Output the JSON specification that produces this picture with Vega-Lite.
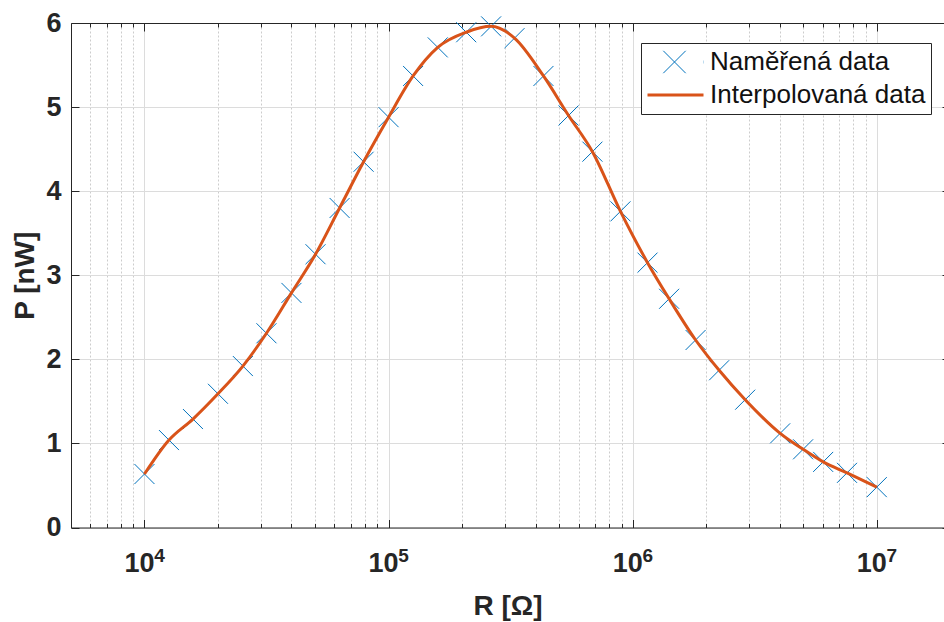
{
  "$schema": "https://vega.github.io/schema/vega-lite/v6.json",
  "width": 873,
  "height": 504.5,
  "autosize": {"type": "none"},
  "padding": {"left": 71, "top": 23, "right": 0, "bottom": 94.5},
  "background": "white",
  "config": {
    "view": {"stroke": null},
    "font": "Liberation Sans",
    "axis": {
      "labelFont": "Liberation Sans", "titleFont": "Liberation Sans",
      "labelColor": "#262626", "titleColor": "#262626",
      "domainColor": "#262626", "tickColor": "#262626",
      "domainWidth": 1, "tickWidth": 1,
      "labelFontWeight": "bold", "titleFontWeight": "bold",
      "labelFontSize": 27, "titleFontSize": 28
    },
    "legend": {
      "title": null, "orient": "none", "direction": "vertical", "cornerRadius": 0,
      "labelFont": "Liberation Sans", "labelFontSize": 26, "labelColor": "#111111", "labelFontWeight": "normal",
      "labelLimit": 400,
      "symbolSize": 3136, "clipHeight": 28, "rowPadding": 5, "symbolOffset": 0,
      "symbolFillColor": "transparent", "symbolOpacity": 1
    }
  },
  "data": {"values": [
    {"R": 10000, "P": 0.636},
    {"R": 12600, "P": 1.04},
    {"R": 15800, "P": 1.29},
    {"R": 20000, "P": 1.59},
    {"R": 25300, "P": 1.92},
    {"R": 31600, "P": 2.31},
    {"R": 40000, "P": 2.79},
    {"R": 50200, "P": 3.25},
    {"R": 63000, "P": 3.80},
    {"R": 79000, "P": 4.35},
    {"R": 100000, "P": 4.88},
    {"R": 126000, "P": 5.37},
    {"R": 159000, "P": 5.71},
    {"R": 208000, "P": 5.89},
    {"R": 263000, "P": 5.96},
    {"R": 328000, "P": 5.82},
    {"R": 431000, "P": 5.37},
    {"R": 546000, "P": 4.90},
    {"R": 684000, "P": 4.47},
    {"R": 891000, "P": 3.76},
    {"R": 1150000, "P": 3.15},
    {"R": 1410000, "P": 2.72},
    {"R": 1810000, "P": 2.23},
    {"R": 2260000, "P": 1.87},
    {"R": 2890000, "P": 1.52},
    {"R": 4020000, "P": 1.12},
    {"R": 4990000, "P": 0.93},
    {"R": 6030000, "P": 0.78},
    {"R": 7550000, "P": 0.65},
    {"R": 10000000, "P": 0.48}
  ]},
  "layer": [
    {
      "mark": {"type": "point", "filled": false, "opacity": 0},
      "encoding": {
        "x": {
          "field": "R", "type": "quantitative",
          "scale": {"type": "log", "domain": [5000, 18850000], "nice": false, "zero": false},
          "axis": {
            "orient": "bottom", "title": null, "grid": false, "domain": false, "ticks": false,
            "values": [10000, 100000, 1000000, 10000000],
            "labelExpr": "datum.value == 10000 ? '4' : datum.value == 100000 ? '5' : datum.value == 1000000 ? '6' : '7'",
            "labelFontSize": 19, "labelOffset": 14.5, "labelPadding": 19,
            "labelOverlap": false, "labelFlush": false
          }
        },
        "y": {"field": "P", "type": "quantitative", "scale": {"domain": [0, 6], "nice": false, "zero": true}, "axis": null}
      }
    },
    {
      "mark": {"type": "point", "filled": false, "size": 2500, "strokeWidth": 1, "opacity": 1},
      "encoding": {
        "x": {
          "field": "R", "type": "quantitative",
          "axis": {
            "orient": "top", "title": null, "labels": false, "grid": false, "domain": true,
            "values": [6000,7000,8000,9000,10000,20000,30000,40000,50000,60000,70000,80000,90000,100000,200000,300000,400000,500000,600000,700000,800000,900000,1000000,2000000,3000000,4000000,5000000,6000000,7000000,8000000,9000000,10000000],
            "tickSize": {"condition": {"test": "indexof([10000,100000,1000000,10000000], datum.value) >= 0", "value": -8}, "value": -4}
          }
        },
        "y": {
          "field": "P", "type": "quantitative",
          "axis": {"orient": "right", "title": null, "labels": false, "grid": false, "domain": false, "values": [0,1,2,3,4,5,6], "tickSize": -2}
        },
        "color": {
          "datum": "Naměřená data", "type": "nominal",
          "scale": {"domain": ["Naměřená data", "Interpolovaná data"], "range": ["#0072BD", "#D95319"]},
          "legend": {
            "title": null, "legendX": 570, "legendY": 20,
            "fillColor": "white", "strokeColor": "#262626", "padding": 5, "labelOffset": 5,
            "symbolType": "stroke", "symbolStrokeWidth": 3
          }
        },
        "shape": {
          "datum": "Naměřená data", "type": "nominal",
          "scale": {"domain": ["Naměřená data"], "range": ["M-0.4,-0.4L0.4,0.4M-0.4,0.4L0.4,-0.4"]},
          "legend": {
            "title": null, "legendX": 575, "legendY": 25,
            "fillColor": "white", "strokeColor": "transparent", "padding": 0, "labelOffset": 0,
            "labelExpr": "''", "rowPadding": 0,
            "symbolStrokeColor": "#0072BD", "symbolStrokeWidth": 1
          }
        }
      }
    },
    {
      "mark": {"type": "line", "interpolate": "monotone", "strokeWidth": 3},
      "encoding": {
        "x": {
          "field": "R", "type": "quantitative",
          "axis": {
            "orient": "bottom", "title": "R [Ω]", "titlePadding": 12,
            "values": [6000,7000,8000,9000,10000,20000,30000,40000,50000,60000,70000,80000,90000,100000,200000,300000,400000,500000,600000,700000,800000,900000,1000000,2000000,3000000,4000000,5000000,6000000,7000000,8000000,9000000,10000000],
            "labelExpr": "indexof([10000,100000,1000000,10000000], datum.value) >= 0 ? '10' : ''",
            "labelOverlap": false, "labelFlush": false, "labelPadding": 31, "labelOffset": -5.5,
            "grid": true,
            "gridColor": {"condition": {"test": "indexof([10000,100000,1000000,10000000], datum.value) >= 0", "value": "#dcdcdc"}, "value": "#cccccc"},
            "gridDash": {"condition": {"test": "indexof([10000,100000,1000000,10000000], datum.value) >= 0", "value": []}, "value": [2, 2]},
            "tickSize": {"condition": {"test": "indexof([10000,100000,1000000,10000000], datum.value) >= 0", "value": -8}, "value": -4}
          }
        },
        "y": {
          "field": "P", "type": "quantitative",
          "axis": {
            "orient": "left", "title": "P [nW]", "titlePadding": 6,
            "values": [0,1,2,3,4,5,6], "grid": true, "gridColor": "#dcdcdc",
            "tickSize": -8, "labelPadding": 18
          }
        },
        "color": {"datum": "Interpolovaná data", "type": "nominal"}
      }
    }
  ],
  "resolve": {"axis": {"x": "independent", "y": "independent"}}
}
